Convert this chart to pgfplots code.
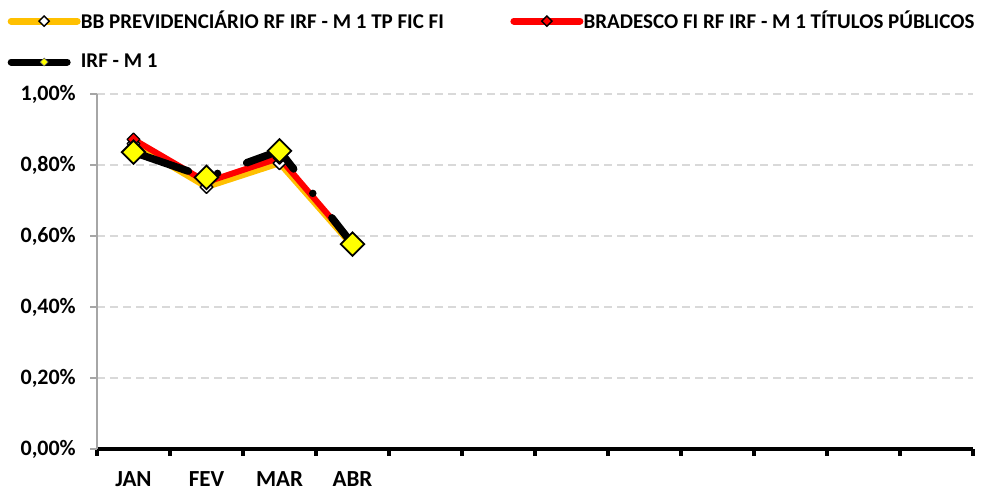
\documentclass[border=0pt]{standalone}
\usepackage{fontspec}
\setmainfont{Carlito}
\usepackage{pgfplots}
\pgfplotsset{compat=1.18}
\definecolor{bbor}{HTML}{FFC000}
\definecolor{brred}{HTML}{FF0000}
\definecolor{irfyel}{HTML}{FFFF00}
\definecolor{gridc}{HTML}{D9D9D9}
\definecolor{axgray}{HTML}{A6A6A6}
\begin{document}
\fontsize{22}{26}\selectfont\bfseries
\begin{tikzpicture}
\begin{axis}[
  scale only axis, width=876pt, height=355pt,
  xmin=-0.5, xmax=11.5, ymin=0, ymax=1,
  axis x line=bottom, axis y line=left,
  x axis line style={-, black, line width=4.5pt},
  y axis line style={-, axgray, line width=1.2pt},
  xtick={-0.5,0.5,1.5,2.5,3.5,4.5,5.5,6.5,7.5,8.5,9.5,10.5,11.5},
  xticklabels={},
  xtick style={black, line width=3.2pt},
  extra x ticks={0,1,2,3},
  extra x tick labels={JAN,FEV,MAR,ABR},
  extra x tick style={major tick length=0pt, grid=none, xticklabel style={inner ysep=0pt, yshift=-22pt}},
  major tick length=7pt, tick align=outside,
  ytick={0,0.2,0.4,0.6,0.8,1},
  ytick style={axgray, line width=1.2pt},
  ymajorgrids, grid style={gridc, line width=1.3pt, dash pattern=on 8pt off 5pt},
  /pgf/number format/assume math mode=true,
  yticklabel style={font=\bfseries, xshift=-6.7pt, /pgf/number format/.cd, fixed, fixed zerofill, precision=2, use comma},
  yticklabel={\pgfmathprintnumber{\tick}\%},
  xticklabel style={font=\fontsize{23}{27}\selectfont\bfseries},
  legend columns=2,
  legend cell align=left,
  legend style={at={(axis description cs:-0.0982,1.241)}, anchor=north west, draw=none, fill=none, font=\fontsize{21}{25}\selectfont\bfseries, inner sep=0pt,
    /tikz/every even column/.append style={column sep=68pt}, row sep=18pt},
  legend image code/.code={\path[use as bounding box, draw=none, fill=none] (0pt,-3pt) rectangle (67.7pt,3pt);
     \draw[mark repeat=2,mark phase=2,#1] plot coordinates {(0pt,0pt) (33pt,0pt) (66pt,0pt)};},
]
\addlegendimage{bbor, line width=7pt, line cap=round, mark=square*, mark size=3.6pt, mark options={rotate=45, fill=white, draw=black, line width=1.4pt, solid}}
\addlegendentry{BB PREVIDENCIÁRIO RF IRF - M 1 TP FIC FI}
\addlegendimage{brred, line width=7pt, line cap=round, mark=square*, mark size=3.6pt, mark options={rotate=45, fill=brred, draw=black, line width=1.4pt, solid}}
\addlegendentry{BRADESCO FI RF IRF - M 1 TÍTULOS PÚBLICOS}
\addlegendimage{legend image code/.code={\path[use as bounding box, draw=none, fill=none] (0pt,-3pt) rectangle (67.7pt,3pt);
     \draw[black, line width=7pt, line cap=round] (0pt,0pt) -- (56pt,0pt);
     \draw[mark=square*, mark size=2.8pt, mark options={rotate=45, fill=irfyel, draw=black!60, line width=0.6pt}] plot coordinates {(33pt,0pt)};}}
\addlegendentry{IRF - M 1}

\addplot[forget plot, bbor, line width=6pt, line join=round, mark=square*, mark size=4.5pt, mark options={rotate=45, fill=white, draw=black, line width=1.3pt, solid}]
  coordinates {(0,0.860) (1,0.738) (2,0.805) (3,0.572)};
\addplot[forget plot, brred, line width=6pt, line join=round, mark=square*, mark size=4.5pt, mark options={rotate=45, fill=brred, draw=black, line width=1.3pt, solid}]
  coordinates {(0,0.872) (1,0.752) (2,0.820) (3,0.580)};
\addplot[forget plot, black, line width=7.5pt, line cap=round, dash pattern=on 58pt off 31pt on 0pt off 31pt, mark=square*, mark size=8.3pt, mark options={rotate=45, fill=irfyel, draw=black, line width=1.8pt, solid}]
  coordinates {(0,0.836) (1,0.765) (2,0.840) (3,0.577)};
\end{axis}
\pgfresetboundingbox
\path (-97pt,-43pt) rectangle (898pt,449pt);
\end{tikzpicture}
\end{document}
